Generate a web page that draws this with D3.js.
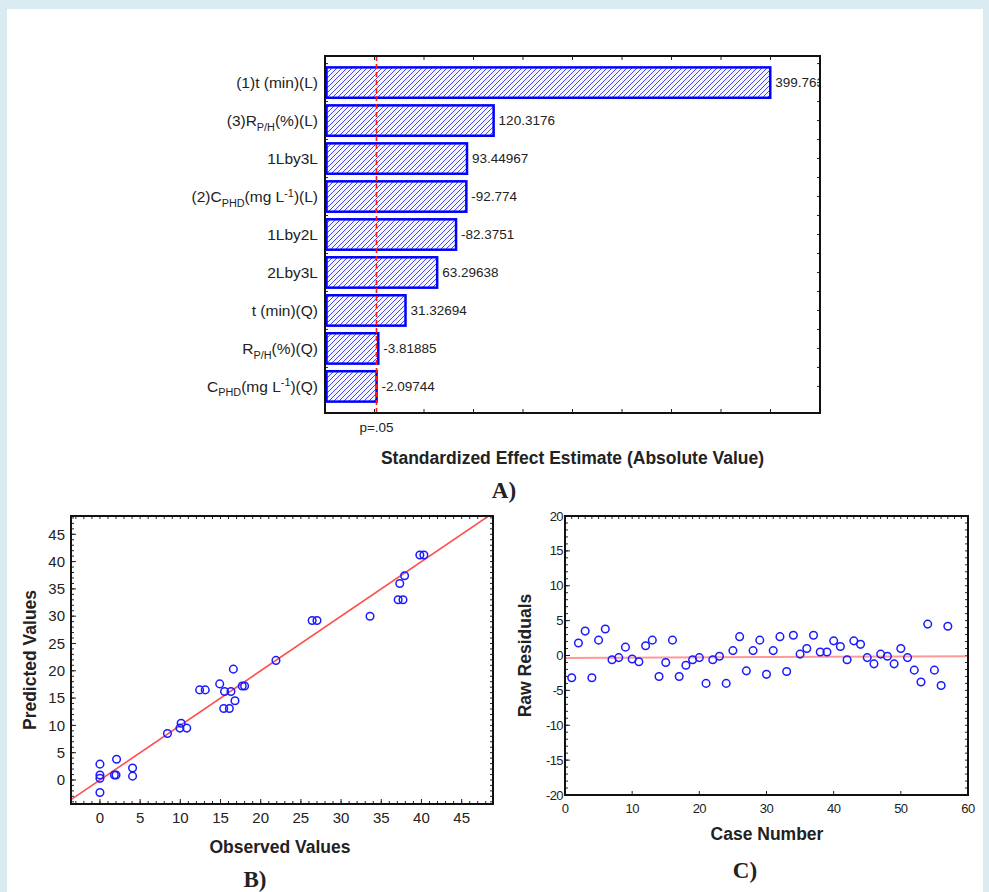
<!DOCTYPE html>
<html>
<head>
<meta charset="utf-8">
<script src="https://cdn.jsdelivr.net/npm/d3@7"></script>
<style>
  html, body { margin: 0; padding: 0; background: #d9eaf0; }
  svg { display: block; }
  text { font-family: "Liberation Sans", Arial, sans-serif; fill: #222; }
  .bold { font-weight: bold; }
  .panel { font-family: "Liberation Serif", "DejaVu Serif", serif; font-weight: bold; font-size: 23px; }
</style>
</head>
<body>
<div id="chart"></div>
<script>
// ---- data ----
// Pareto chart (A)
const effectLabels = [
  "(1)t (min)(L)",
  "(3)R_{P/H}(%)(L)",
  "1Lby3L",
  "(2)C_{PHD}(mg L^{-1})(L)",
  "1Lby2L",
  "2Lby3L",
  "t (min)(Q)",
  "R_{P/H}(%)(Q)",
  "C_{PHD}(mg L^{-1})(Q)"
];
const effectValues = [399.763, 120.3176, 93.44967, -92.774, -82.3751, 63.29638, 31.32694, -3.81885, -2.09744];
const effectLabelsText = ["399.763", "120.3176", "93.44967", "-92.774", "-82.3751", "63.29638", "31.32694", "-3.81885", "-2.09744"];
const pCritical = 2.0;
const effectTicks = [-50, 0, 50, 100, 150, 200, 250, 300, 350, 400, 450];

// Observed vs predicted (B)
const observed = [0, 0, 0, 0, 2.07, 1.8, 2.0, 4.06, 4.06, 8.4, 10.1, 9.95, 10.8, 12.4, 13.1, 14.9, 15.5, 16.3, 15.4, 16.1, 16.8, 17.7, 18.0, 16.6, 21.9, 26.4, 27.0, 33.6, 37.1, 37.7, 37.3, 37.9, 39.8, 40.3];
const predicted = [2.9, 0.9, 0.3, -2.3, 3.8, 0.9, 0.9, 2.2, 0.7, 8.5, 10.4, 9.5, 9.5, 16.5, 16.5, 17.6, 16.2, 16.2, 13.1, 13.1, 14.5, 17.2, 17.2, 20.3, 21.9, 29.2, 29.2, 30.0, 33.0, 33.0, 36.0, 37.4, 41.2, 41.2];
const fitB = { intercept: 0, slope: 1 };
const ticksB = [0, 5, 10, 15, 20, 25, 30, 35, 40, 45];

// Residuals by case (C)
const residuals = [-3.2, 1.8, 3.5, -3.2, 2.2, 3.8, -0.6, -0.3, 1.2, -0.5,
  -0.9, 1.4, 2.2, -3.0, -1.0, 2.2, -3.0, -1.4, -0.6, -0.3,
  -4.0, -0.6, -0.1, -4.0, 0.7, 2.7, -2.2, 0.7, 2.2, -2.7,
  0.7, 2.7, -2.3, 2.9, 0.2, 1.0, 2.9, 0.5, 0.5, 2.1,
  1.3, -0.6, 2.1, 1.6, -0.3, -1.2, 0.2, -0.1, -1.2, 1.0,
  -0.3, -2.1, -3.8, 4.5, -2.1, -4.3, 4.2];
const fitC = { intercept: -0.35, slope: 0.004 };
const ticksCx = [0, 10, 20, 30, 40, 50, 60];
const ticksCy = [-20, -15, -10, -5, 0, 5, 10, 15, 20];

// ---- page ----
const width = 989, height = 892;
const svg = d3.select("#chart").append("svg")
  .attr("width", width).attr("height", height);

svg.append("rect").attr("x", 7).attr("y", 9)
  .attr("width", 976).attr("height", height - 9).attr("fill", "#fff");

const defs = svg.append("defs");
const hatch = defs.append("pattern")
  .attr("id", "hatch").attr("patternUnits", "userSpaceOnUse")
  .attr("width", 5).attr("height", 5);
hatch.append("rect").attr("width", 5).attr("height", 5).attr("fill", "#f4f5ff");
hatch.append("path")
  .attr("d", "M0,5 L5,0 M-1,1 L1,-1 M4,6 L6,4")
  .attr("stroke", "#4646ff").attr("stroke-width", 1);

// draw rich label with _{sub} and ^{sup}
function richText(sel, str, size) {
  const parts = [];
  const re = /([_^])\{([^}]*)\}/g;
  let last = 0, m;
  while ((m = re.exec(str)) !== null) {
    if (m.index > last) parts.push({ t: str.slice(last, m.index), k: "n" });
    parts.push({ t: m[2], k: m[1] == "_" ? "sub" : "sup" });
    last = re.lastIndex;
  }
  if (last < str.length) parts.push({ t: str.slice(last), k: "n" });
  let state = "n";
  parts.forEach(p => {
    const ts = sel.append("tspan").text(p.t);
    const off = { n: 0, sub: size * 0.3, sup: -size * 0.35 };
    const dy = off[p.k] - off[state];
    if (dy) ts.attr("dy", dy);
    if (p.k != "n") ts.attr("font-size", size * 0.7);
    state = p.k;
  });
}

// small ticks drawn inside the frame
function innerTicks(g, scale, values, orient, x0, y0, len) {
  values.forEach(v => {
    const p = scale(v);
    if (orient == "top") g.append("line").attr("x1", p).attr("x2", p).attr("y1", y0).attr("y2", y0 + len);
    if (orient == "bottom") g.append("line").attr("x1", p).attr("x2", p).attr("y1", y0).attr("y2", y0 - len);
    if (orient == "left") g.append("line").attr("y1", p).attr("y2", p).attr("x1", x0).attr("x2", x0 + len);
    if (orient == "right") g.append("line").attr("y1", p).attr("y2", p).attr("x1", x0).attr("x2", x0 - len);
  });
}

// ================= A: Pareto =================
(function () {
  const left = 325, right = 820, top = 56, bottom = 413;
  const x = d3.scaleLinear().domain([-50, 450]).range([left, right]);
  const y = d3.scaleBand().domain(effectLabels).range([top, bottom])
    .paddingInner(0.2).paddingOuter(0.3);
  const g = svg.append("g");

  const ticksG = g.append("g").attr("stroke", "#222").attr("stroke-width", 1);
  innerTicks(ticksG, x, effectTicks, "bottom", 0, bottom, 4);
  innerTicks(ticksG, x, effectTicks, "top", 0, top, 4);
  const bandEdges = [];
  effectLabels.forEach(d => { bandEdges.push(y(d) - y.step() * 0.1); bandEdges.push(y(d) + y.bandwidth() / 2); });
  const ident = d3.scaleIdentity();
  innerTicks(ticksG, ident, bandEdges, "left", left, 0, 3);
  innerTicks(ticksG, ident, bandEdges, "right", right, 0, 3);

  g.selectAll("rect.bar").data(effectValues).enter().append("rect")
    .attr("class", "bar")
    .attr("x", left + 1.5)
    .attr("y", (d, i) => y(effectLabels[i]))
    .attr("width", d => x(Math.abs(d)) - left - 1.5)
    .attr("height", y.bandwidth())
    .attr("fill", "url(#hatch)")
    .attr("stroke", "#0000ff").attr("stroke-width", 2.5);

  g.append("line")
    .attr("x1", x(pCritical)).attr("x2", x(pCritical))
    .attr("y1", top).attr("y2", bottom)
    .attr("stroke", "#ff1a1a").attr("stroke-width", 1.6)
    .attr("stroke-dasharray", "5,3");

  defs.append("clipPath").attr("id", "clipA")
    .append("rect").attr("x", left).attr("y", top).attr("width", right - left).attr("height", bottom - top);

  g.append("g").attr("clip-path", "url(#clipA)")
    .selectAll("text").data(effectValues).enter().append("text")
    .attr("x", d => x(Math.abs(d)) + 5)
    .attr("y", (d, i) => y(effectLabels[i]) + y.bandwidth() / 2)
    .attr("dy", "0.35em")
    .attr("font-size", 13.5)
    .text((d, i) => effectLabelsText[i]);

  g.selectAll("text.lab").data(effectLabels).enter().append("text")
    .attr("class", "lab")
    .attr("x", left - 7)
    .attr("y", d => y(d) + y.bandwidth() / 2)
    .attr("dy", "0.35em")
    .attr("text-anchor", "end")
    .attr("font-size", 15.5)
    .each(function (d) { richText(d3.select(this), d, 15.5); });

  g.append("rect").attr("x", left).attr("y", top)
    .attr("width", right - left).attr("height", bottom - top)
    .attr("fill", "none").attr("stroke", "#111").attr("stroke-width", 2);

  g.append("text").attr("x", x(pCritical)).attr("y", 432)
    .attr("text-anchor", "middle").attr("font-size", 13.5).text("p=.05");

  g.append("text").attr("class", "bold")
    .attr("x", (left + right) / 2).attr("y", 464)
    .attr("text-anchor", "middle").attr("font-size", 17.5)
    .text("Standardized Effect Estimate (Absolute Value)");

  g.append("text").attr("class", "panel")
    .attr("x", 504).attr("y", 498).attr("text-anchor", "middle").text("A)");
})();

// ================= B: Observed vs predicted =================
(function () {
  const left = 71, right = 493, top = 516, bottom = 804;
  const x = d3.scaleLinear().domain([-3.6, 48.9]).range([left, right]);
  const y = d3.scaleLinear().domain([-4.4, 48.35]).range([bottom, top]);
  const g = svg.append("g");

  defs.append("clipPath").attr("id", "clipB")
    .append("rect").attr("x", left).attr("y", top).attr("width", right - left).attr("height", bottom - top);

  const minorX = d3.range(-3, 49, 1), minorY = d3.range(-4, 49, 1);
  const tg = g.append("g").attr("stroke", "#222").attr("stroke-width", 1);
  innerTicks(tg, x, minorX, "top", 0, top, 3);
  innerTicks(tg, x, minorX, "bottom", 0, bottom, 3);
  innerTicks(tg, y, minorY, "right", right, 0, 3);
  innerTicks(tg, y, minorY, "left", left, 0, 3);
  innerTicks(tg, x, ticksB, "bottom", 0, bottom, 5);
  innerTicks(tg, y, ticksB, "left", left, 0, 5);

  const line = d3.line().x(d => x(d)).y(d => y(fitB.intercept + fitB.slope * d));
  g.append("path").attr("clip-path", "url(#clipB)")
    .attr("d", line(x.domain()))
    .attr("fill", "none").attr("stroke", "#ff4d4d").attr("stroke-width", 1.6);

  g.append("g").selectAll("circle").data(observed).enter().append("circle")
    .attr("cx", d => x(d))
    .attr("cy", (d, i) => y(predicted[i]))
    .attr("r", 3.8)
    .attr("fill", "none").attr("stroke", "#1a1aff").attr("stroke-width", 1.5);

  g.append("rect").attr("x", left).attr("y", top)
    .attr("width", right - left).attr("height", bottom - top)
    .attr("fill", "none").attr("stroke", "#111").attr("stroke-width", 2);

  g.selectAll("text.yt").data(ticksB).enter().append("text")
    .attr("class", "yt")
    .attr("x", left - 6).attr("y", d => y(d)).attr("dy", "0.35em")
    .attr("text-anchor", "end").attr("font-size", 15).text(d => d);
  g.selectAll("text.xt").data(ticksB).enter().append("text")
    .attr("class", "xt")
    .attr("x", d => x(d)).attr("y", bottom + 14).attr("dy", "0.35em")
    .attr("text-anchor", "middle").attr("font-size", 15).text(d => d);

  g.append("text").attr("class", "bold")
    .attr("transform", `translate(36,${(top + bottom) / 2}) rotate(-90)`)
    .attr("text-anchor", "middle").attr("font-size", 17.5).text("Predicted Values");
  g.append("text").attr("class", "bold")
    .attr("x", 280).attr("y", 853)
    .attr("text-anchor", "middle").attr("font-size", 17.5).text("Observed Values");
  g.append("text").attr("class", "panel")
    .attr("x", 255).attr("y", 887).attr("text-anchor", "middle").text("B)");
})();

// ================= C: Residuals =================
(function () {
  const left = 565, right = 968, top = 516, bottom = 795;
  const x = d3.scaleLinear().domain([0, 60]).range([left, right]);
  const y = d3.scaleLinear().domain([-20, 20]).range([bottom, top]);
  const g = svg.append("g");

  const tg = g.append("g").attr("stroke", "#222").attr("stroke-width", 1);
  innerTicks(tg, x, d3.range(0, 61, 1), "top", 0, top, 3);
  innerTicks(tg, y, d3.range(-20, 21, 1), "right", right, 0, 3);
  innerTicks(tg, y, d3.range(-20, 21, 1), "left", left, 0, 3);
  innerTicks(tg, y, ticksCy, "left", left, 0, 5);
  innerTicks(tg, x, ticksCx, "bottom", 0, bottom, 4);

  const line = d3.line().x(d => x(d)).y(d => y(fitC.intercept + fitC.slope * d));
  g.append("path")
    .attr("d", line(x.domain()))
    .attr("fill", "none").attr("stroke", "#ff8080").attr("stroke-opacity", 0.8).attr("stroke-width", 2);

  g.append("g").selectAll("circle").data(residuals).enter().append("circle")
    .attr("cx", (d, i) => x(i + 1))
    .attr("cy", d => y(d))
    .attr("r", 3.8)
    .attr("fill", "none").attr("stroke", "#1a1aff").attr("stroke-width", 1.5);

  g.append("rect").attr("x", left).attr("y", top)
    .attr("width", right - left).attr("height", bottom - top)
    .attr("fill", "none").attr("stroke", "#111").attr("stroke-width", 2);

  g.selectAll("text.yt").data(ticksCy).enter().append("text")
    .attr("class", "yt")
    .attr("x", left - 2).attr("y", d => y(d)).attr("dy", "0.35em")
    .attr("text-anchor", "end").attr("font-size", 13).attr("letter-spacing", -0.6).text(d => d);
  g.selectAll("text.xt").data(ticksCx).enter().append("text")
    .attr("class", "xt")
    .attr("x", d => x(d)).attr("y", bottom + 13).attr("dy", "0.35em")
    .attr("text-anchor", "middle").attr("font-size", 13).attr("letter-spacing", -0.6).text(d => d);

  g.append("text").attr("class", "bold")
    .attr("transform", `translate(531,${(top + bottom) / 2}) rotate(-90)`)
    .attr("text-anchor", "middle").attr("font-size", 17.5).text("Raw Residuals");
  g.append("text").attr("class", "bold")
    .attr("x", 767).attr("y", 840)
    .attr("text-anchor", "middle").attr("font-size", 17.5).text("Case Number");
  g.append("text").attr("class", "panel")
    .attr("x", 745).attr("y", 878).attr("text-anchor", "middle").text("C)");
})();
</script>
</body>
</html>
